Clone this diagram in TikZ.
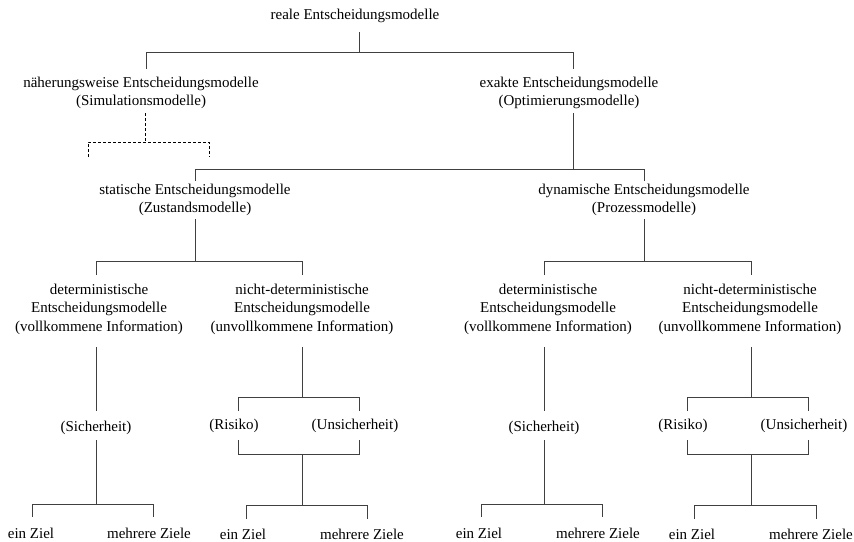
\documentclass[tikz,border=0pt]{standalone}
\usepackage{fontspec}
\setmainfont{Liberation Serif}
\begin{document}
\begin{tikzpicture}[x=1pt,y=-1pt,
  lbl/.style={inner sep=0pt, align=center, font=\fontsize{15}{18.5}\selectfont},
  link/.style={draw=black!75, line width=1pt},
  dlink/.style={draw=black, line width=0.9pt, dash pattern=on 3pt off 2pt}]
\useasboundingbox (0,0) rectangle (854,541);

% ---------- text nodes ----------
\node[lbl] (top) at (355,16) {reale Entscheidungsmodelle};
\node[lbl] (nah) at (141,93) {näherungsweise Entscheidungsmodelle\\(Simulationsmodelle)};
\node[lbl] (exa) at (569,93) {exakte Entscheidungsmodelle\\(Optimierungsmodelle)};
\node[lbl] (sta) at (195,200) {statische Entscheidungsmodelle\\(Zustandsmodelle)};
\node[lbl] (dyn) at (644,200) {dynamische Entscheidungsmodelle\\(Prozessmodelle)};

\node[lbl] (sd) at (99,309) {deterministische\\Entscheidungsmodelle\\(vollkommene Information)};
\node[lbl] (sn) at (302,309) {nicht-deterministische\\Entscheidungsmodelle\\(unvollkommene Information)};
\node[lbl] (dd) at (548,309) {deterministische\\Entscheidungsmodelle\\(vollkommene Information)};
\node[lbl] (dn) at (750,309) {nicht-deterministische\\Entscheidungsmodelle\\(unvollkommene Information)};

\node[lbl] (ss) at (96,428) {(Sicherheit)};
\node[lbl] (sr) at (234,426) {(Risiko)};
\node[lbl] (su) at (355,426) {(Unsicherheit)};
\node[lbl] (ds) at (544,428) {(Sicherheit)};
\node[lbl] (dr) at (683,426) {(Risiko)};
\node[lbl] (du) at (804,426) {(Unsicherheit)};

\node[lbl] (sde) at (31,533) {ein Ziel};
\node[lbl] (sdm) at (149,533) {mehrere Ziele};
\node[lbl] (sne) at (243,534) {ein Ziel};
\node[lbl] (snm) at (362,534) {mehrere Ziele};
\node[lbl] (dde) at (479,533) {ein Ziel};
\node[lbl] (ddm) at (598,533) {mehrere Ziele};
\node[lbl] (dne) at (692,534) {ein Ziel};
\node[lbl] (dnm) at (811,534) {mehrere Ziele};

% ---------- connector end points and junctions ----------
\coordinate (top-o) at (359,32);  \coordinate (b1) at (359,52);
\coordinate (nah-i) at (146,69);  \coordinate (exa-i) at (573,69);
\coordinate (nah-o) at (145,113); \coordinate (b1d) at (145,142);
\coordinate (sim1) at (88,157);   \coordinate (sim2) at (209,157);
\coordinate (exa-o) at (573,113); \coordinate (b2) at (573,169);
\coordinate (sta-i) at (195,181); \coordinate (dyn-i) at (644,181);
\coordinate (sta-o) at (195,219); \coordinate (b3s) at (195,261);
\coordinate (dyn-o) at (644,219); \coordinate (b3d) at (644,261);
\coordinate (sd-i) at (96,275);   \coordinate (sn-i) at (302,275);
\coordinate (dd-i) at (544,275);  \coordinate (dn-i) at (751,275);

% static, deterministic
\coordinate (sd-o) at (96,347);   \coordinate (ss-i) at (96,411);
\coordinate (ss-o) at (96,440);   \coordinate (b4s) at (96,504);
\coordinate (sde-i) at (32,517);  \coordinate (sdm-i) at (153,517);
% static, non-deterministic
\coordinate (sn-o) at (302,347);  \coordinate (b4n) at (302,397);
\coordinate (sr-i) at (238,411);  \coordinate (su-i) at (359,411);
\coordinate (sr-o) at (238,440);  \coordinate (su-o) at (359,440);
\coordinate (b5n) at (302,454);   \coordinate (b6n) at (302,505);
\coordinate (sne-i) at (246,519); \coordinate (snm-i) at (367,519);
% dynamic, deterministic
\coordinate (dd-o) at (544,347);  \coordinate (ds-i) at (544,411);
\coordinate (ds-o) at (544,440);  \coordinate (b4d) at (544,504);
\coordinate (dde-i) at (481,517); \coordinate (ddm-i) at (602,517);
% dynamic, non-deterministic
\coordinate (dn-o) at (751,347);  \coordinate (b4dn) at (751,397);
\coordinate (dr-i) at (687,411);  \coordinate (du-i) at (808,411);
\coordinate (dr-o) at (687,440);  \coordinate (du-o) at (808,440);
\coordinate (b5dn) at (751,454);  \coordinate (b6dn) at (751,505);
\coordinate (dne-i) at (694,519); \coordinate (dnm-i) at (816,519);

% ---------- connectors ----------
\draw[link] (top-o) -- (b1);
\draw[link] (nah-i) -- (nah-i |- b1) -- (exa-i |- b1) -- (exa-i);

\draw[dlink] (nah-o) -- (b1d);
\draw[dlink] (sim1) -- (sim1 |- b1d) -- (sim2 |- b1d) -- (sim2);

\draw[link] (exa-o) -- (b2);
\draw[link] (sta-i) -- (sta-i |- b2) -- (dyn-i |- b2) -- (dyn-i);

\draw[link] (sta-o) -- (b3s);
\draw[link] (sd-i) -- (sd-i |- b3s) -- (sn-i |- b3s) -- (sn-i);
\draw[link] (dyn-o) -- (b3d);
\draw[link] (dd-i) -- (dd-i |- b3d) -- (dn-i |- b3d) -- (dn-i);

% deterministic branches
\draw[link] (sd-o) -- (ss-i);
\draw[link] (ss-o) -- (b4s);
\draw[link] (sde-i) -- (sde-i |- b4s) -- (sdm-i |- b4s) -- (sdm-i);
\draw[link] (dd-o) -- (ds-i);
\draw[link] (ds-o) -- (b4d);
\draw[link] (dde-i) -- (dde-i |- b4d) -- (ddm-i |- b4d) -- (ddm-i);

% non-deterministic branches
\draw[link] (sn-o) -- (b4n);
\draw[link] (sr-i) -- (sr-i |- b4n) -- (su-i |- b4n) -- (su-i);
\draw[link] (sr-o) -- (sr-o |- b5n) -- (su-o |- b5n) -- (su-o);
\draw[link] (b5n) -- (b6n);
\draw[link] (sne-i) -- (sne-i |- b6n) -- (snm-i |- b6n) -- (snm-i);

\draw[link] (dn-o) -- (b4dn);
\draw[link] (dr-i) -- (dr-i |- b4dn) -- (du-i |- b4dn) -- (du-i);
\draw[link] (dr-o) -- (dr-o |- b5dn) -- (du-o |- b5dn) -- (du-o);
\draw[link] (b5dn) -- (b6dn);
\draw[link] (dne-i) -- (dne-i |- b6dn) -- (dnm-i |- b6dn) -- (dnm-i);
\end{tikzpicture}
\end{document}
